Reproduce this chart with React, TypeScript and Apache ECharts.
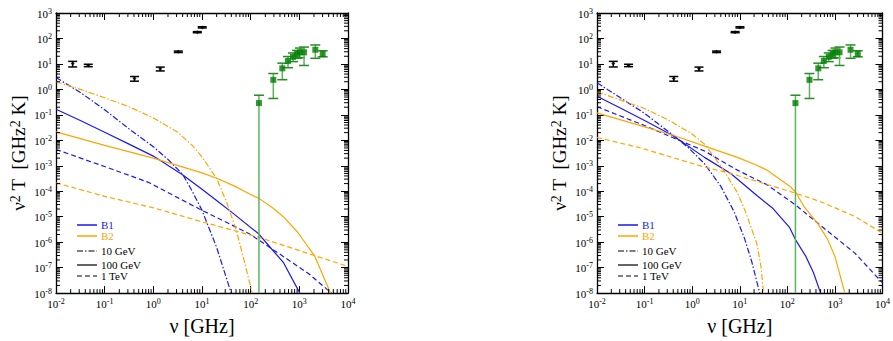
import React, { useEffect, useRef } from "react";
import * as echarts from "echarts";

const FONT = "Liberation Serif";
const BLUE = "rgb(25,25,235)";
const ORANGE = "#ffa500";

// axis ranges (log10 exponents) and minor tick multipliers
const X_MIN = -2;
const X_MAX = 4;
const Y_MIN = -8;
const Y_MAX = 3;
const MINOR_MULT = [2, 3, 4, 5, 6, 7, 8, 9];

// measurements: [ν GHz, ν²T, low, high]
const blackPoints = [
  [0.022, 10.4, 7.6, 12.6],
  [0.046, 8.7, 7.8, 9.7],
  [0.41, 2.67, 2.1, 3.2],
  [1.39, 6.4, 5.3, 7.5],
  [3.26, 30, 28, 32],
  [8.0, 177, 168, 186],
  [10.1, 272, 258, 288],
];
const greenPoints = [
  [148, 0.29, 1e-8, 0.59],
  [292, 2.37, 0.44, 4.2],
  [447, 6.7, 2.4, 10.7],
  [585, 13.1, 7.1, 19.5],
  [741, 19, 12.3, 27],
  [896, 24.6, 16.6, 34],
  [1030, 28.6, 17.6, 42],
  [1250, 28.6, 8.7, 46],
  [2130, 36, 16.6, 55.6],
  [3020, 24.6, 19, 33],
];

// curves: [log10 ν, log10 ν²T]
const leftB1_10GeV = [[-2, 0.47], [-1.5, -0.12], [-1, -0.8], [-0.5, -1.55], [0, -2.25], [0.3, -2.75], [0.6, -3.33], [0.8, -4.0], [1.0, -4.75], [1.3, -6.2], [1.6, -8.0]];
const leftB1_100GeV = [[-2, -0.78], [-1.5, -1.22], [-1, -1.68], [-0.5, -2.15], [0, -2.62], [0.6, -3.35], [1.0, -3.92], [1.3, -4.36], [1.64, -4.87], [2.17, -5.68], [2.39, -6.18], [2.67, -6.79], [3.01, -8.0]];
const leftB1_1TeV = [[-2, -2.36], [-1, -3.03], [-0.1, -3.65], [0.5, -4.25], [0.95, -4.7], [1.5, -5.22], [1.98, -5.68], [2.67, -6.56], [3.2, -7.25], [3.66, -8.0]];
const leftB2_10GeV = [[-2, 0.3], [-1.5, 0.0], [-1, -0.33], [-0.5, -0.68], [0, -1.12], [0.5, -1.68], [0.8, -2.2], [1.0, -2.65], [1.3, -3.5], [1.5, -4.4], [1.7, -5.5], [1.85, -6.6], [1.98, -7.6], [2.03, -8.0]];
const leftB2_100GeV = [[-2, -1.67], [-1, -2.2], [0, -2.7], [1, -3.28], [1.3, -3.49], [1.65, -3.78], [1.98, -4.11], [2.17, -4.28], [2.45, -4.65], [2.67, -5.0], [2.97, -5.62], [3.32, -6.56], [3.64, -8.0]];
const leftB2_1TeV = [[-2, -3.67], [-1, -4.2], [0, -4.65], [1, -5.2], [2.17, -5.81], [3.32, -6.53], [4, -6.95]];

const rightB1_10GeV = [[-2, 0.26], [-1.5, -0.34], [-1, -0.94], [-0.4, -1.8], [-0.08, -2.29], [0.26, -2.92], [0.6, -3.8], [0.88, -4.8], [1.1, -5.85], [1.25, -6.75], [1.36, -7.56], [1.42, -8.0]];
const rightB1_100GeV = [[-2, -0.27], [-1.5, -0.74], [-1, -1.22], [-0.4, -1.82], [0.26, -2.67], [0.81, -3.3], [1.36, -4.17], [1.7, -4.68], [2.05, -5.43], [2.18, -5.93], [2.39, -6.56], [2.55, -7.2], [2.7, -8.0]];
const rightB1_1TeV = [[-2, -0.68], [-1, -1.42], [-0.4, -1.9], [0.26, -2.42], [0.95, -3.17], [1.36, -3.55], [1.57, -3.74], [2.18, -4.55], [2.63, -5.24], [3.42, -6.43], [4.0, -7.6]];
const rightB2_10GeV = [[-2, -0.1], [-1.5, -0.42], [-1, -0.75], [-0.5, -1.2], [0, -1.75], [0.26, -2.15], [0.6, -3.0], [0.95, -4.05], [1.12, -4.8], [1.36, -6.06], [1.45, -7.0], [1.5, -8.0]];
const rightB2_100GeV = [[-2, -0.92], [-1, -1.47], [-0.4, -1.8], [0.26, -2.23], [0.95, -2.67], [1.36, -2.98], [1.57, -3.17], [2.05, -3.8], [2.18, -4.05], [2.35, -4.6], [2.63, -5.24], [2.85, -5.9], [3.0, -6.56], [3.21, -8.0]];
const rightB2_1TeV = [[-2, -1.89], [-1.1, -2.29], [0.26, -3.05], [0.81, -3.3], [1.36, -3.61], [2.18, -4.08], [2.73, -4.43], [3.42, -4.99], [4.0, -5.65]];

const DASH_DOT = [6, 2, 1.5, 2];
const DASHED = [5, 3];

const legendLabels = ["B1", "B2", "10 GeV", "100 GeV", "1 TeV"];

const panels = [
  {
    left: 56,
    width: 292,
    curves: [
      { d: leftB1_10GeV, c: BLUE, t: DASH_DOT },
      { d: leftB1_100GeV, c: BLUE, t: "solid" },
      { d: leftB1_1TeV, c: BLUE, t: DASHED },
      { d: leftB2_10GeV, c: ORANGE, t: DASH_DOT },
      { d: leftB2_100GeV, c: ORANGE, t: "solid" },
      { d: leftB2_1TeV, c: ORANGE, t: DASHED },
    ],
  },
  {
    left: 597,
    width: 291,
    curves: [
      { d: rightB1_10GeV, c: BLUE, t: DASH_DOT },
      { d: rightB1_100GeV, c: BLUE, t: "solid" },
      { d: rightB1_1TeV, c: BLUE, t: DASHED },
      { d: rightB2_10GeV, c: ORANGE, t: DASH_DOT },
      { d: rightB2_100GeV, c: ORANGE, t: "solid" },
      { d: rightB2_1TeV, c: ORANGE, t: DASHED },
    ],
  },
];

const TOP = 13;
const HEIGHT = 292;
const lg = (v: number) => Math.log10(v);

function expLabel(v: number) {
  return `{b|10}{s|${Math.round(v)}}`;
}

const labelRich = {
  b: { fontSize: 11, fontFamily: FONT, color: "#000", lineHeight: 12, verticalAlign: "bottom" },
  s: { fontSize: 8, fontFamily: FONT, color: "#000", lineHeight: 9, padding: [0, 0, 6, 0], verticalAlign: "top" },
};

const axisLineStyle = { color: "#000", width: 1.3 };

function minorData() {
  const out: number[][] = [];
  for (let k = X_MIN; k < X_MAX; k++) MINOR_MULT.forEach((m) => out.push([k + Math.log10(m), 0, 0]));
  for (let k = Y_MIN; k < Y_MAX; k++) MINOR_MULT.forEach((m) => out.push([0, k + Math.log10(m), 1]));
  return out;
}

function buildOption() {
  const grid: any[] = [];
  const xAxis: any[] = [];
  const yAxis: any[] = [];
  const series: any[] = [];
  const graphic: any[] = [];

  panels.forEach((p, i) => {
    grid.push({ left: p.left, top: TOP, width: p.width, height: HEIGHT, containLabel: false });
    const xBase = {
      type: "value",
      min: X_MIN,
      max: X_MAX,
      interval: 1,
      gridIndex: i,
      axisLine: { show: true, onZero: false, lineStyle: axisLineStyle },
      axisTick: { show: true, inside: true, length: 7, lineStyle: { color: "#000", width: 1 } },
      splitLine: { show: false },
    };
    const yBase = {
      type: "value",
      min: Y_MIN,
      max: Y_MAX,
      interval: 1,
      gridIndex: i,
      axisLine: { show: true, onZero: false, lineStyle: axisLineStyle },
      axisTick: { show: true, inside: true, length: 7, lineStyle: { color: "#000", width: 1 } },
      splitLine: { show: false },
    };
    xAxis.push({
      ...xBase,
      position: "bottom",
      axisLabel: { show: true, formatter: expLabel, rich: labelRich, margin: 4, showMinLabel: true, showMaxLabel: true },
      name: "ν [GHz]",
      nameLocation: "middle",
      nameGap: 17,
      nameTextStyle: { fontSize: 20, fontFamily: FONT, color: "#000" },
    });
    xAxis.push({ ...xBase, position: "top", axisLabel: { show: false } });
    yAxis.push({
      ...yBase,
      position: "left",
      axisLabel: { show: true, formatter: expLabel, rich: labelRich, margin: 4, showMinLabel: true, showMaxLabel: true },
      name: "{n|ν}{s|2}{n| T  [GHz}{s|2}{n| K]}",
      nameLocation: "middle",
      nameRotate: 90,
      nameGap: 28,
      nameTextStyle: {
        fontSize: 19,
        fontFamily: FONT,
        color: "#000",
        rich: {
          n: { fontSize: 19, fontFamily: FONT, color: "#000", lineHeight: 20, verticalAlign: "bottom" },
          s: { fontSize: 14, fontFamily: FONT, color: "#000", lineHeight: 14, padding: [0, 0, 8, 0], verticalAlign: "top" },
        },
      },
    });
    yAxis.push({ ...yBase, position: "right", axisLabel: { show: false } });

    const xi = i * 2;
    const yi = i * 2;

    // minor ticks on all four sides
    series.push({
      type: "custom",
      xAxisIndex: xi,
      yAxisIndex: yi,
      silent: true,
      data: minorData(),
      encode: { x: 0, y: 1 },
      renderItem: (params: any, api: any) => {
        const cs = params.coordSys;
        const kind = api.value(2);
        const st = { stroke: "#000", lineWidth: 1 };
        if (kind === 0) {
          const px = api.coord([api.value(0), 0])[0];
          return {
            type: "group",
            children: [
              { type: "line", shape: { x1: px, y1: cs.y + cs.height, x2: px, y2: cs.y + cs.height - 4 }, style: st },
              { type: "line", shape: { x1: px, y1: cs.y, x2: px, y2: cs.y + 4 }, style: st },
            ],
          };
        }
        const py = api.coord([0, api.value(1)])[1];
        return {
          type: "group",
          children: [
            { type: "line", shape: { x1: cs.x, y1: py, x2: cs.x + 4, y2: py }, style: st },
            { type: "line", shape: { x1: cs.x + cs.width, y1: py, x2: cs.x + cs.width - 4, y2: py }, style: st },
          ],
        };
      },
      z: 10,
    });

    // curves
    p.curves.forEach((c) => {
      series.push({
        type: "line",
        xAxisIndex: xi,
        yAxisIndex: yi,
        data: c.d,
        showSymbol: false,
        symbol: "none",
        lineStyle: { color: c.c, width: 1.2, type: c.t },
        silent: true,
        z: 2,
      });
    });

    // error bars
    const errSeries = (pts: number[][], lineColor: string, capColor: string, capHalf: number) => ({
      type: "custom",
      xAxisIndex: xi,
      yAxisIndex: yi,
      silent: true,
      data: pts.map((d) => [lg(d[0]), lg(d[1]), lg(d[2]), lg(d[3])]),
      encode: { x: 0, y: 1 },
      z: 3,
      renderItem: (params: any, api: any) => {
        const x = api.value(0);
        const lo = api.value(2);
        const hi = api.value(3);
        const pl = api.coord([x, lo]);
        const ph = api.coord([x, hi]);
        const children: any[] = [
          { type: "line", shape: { x1: pl[0], y1: pl[1], x2: ph[0], y2: ph[1] }, style: { stroke: lineColor, lineWidth: 1.5 } },
          { type: "line", shape: { x1: ph[0] - capHalf, y1: ph[1], x2: ph[0] + capHalf, y2: ph[1] }, style: { stroke: capColor, lineWidth: 1.5 } },
        ];
        if (lo > Y_MIN + 0.01) {
          children.push({ type: "line", shape: { x1: pl[0] - capHalf, y1: pl[1], x2: pl[0] + capHalf, y2: pl[1] }, style: { stroke: capColor, lineWidth: 1.5 } });
        }
        return { type: "group", children };
      },
    });
    series.push(errSeries(blackPoints, "#000", "#000", 4.5));
    series.push(errSeries(greenPoints, "#5cb35c", "#2a8a2a", 5));
    series.push({
      type: "scatter",
      xAxisIndex: xi,
      yAxisIndex: yi,
      data: blackPoints.map((d) => [lg(d[0]), lg(d[1])]),
      symbol: "diamond",
      symbolSize: 4,
      itemStyle: { color: "#000" },
      silent: true,
      z: 4,
    });
    series.push({
      type: "scatter",
      xAxisIndex: xi,
      yAxisIndex: yi,
      data: greenPoints.map((d) => [lg(d[0]), lg(d[1])]),
      symbol: "rect",
      symbolSize: 6,
      itemStyle: { color: "#008000" },
      silent: true,
      z: 4,
    });

    // legend
    const lx = p.left + 21;
    const rows = [
      { y: 225, color: BLUE, dash: null, textColor: BLUE },
      { y: 236, color: ORANGE, dash: null, textColor: ORANGE },
      { y: 251, color: "#000", dash: DASH_DOT, textColor: "#000" },
      { y: 265, color: "#000", dash: null, textColor: "#000" },
      { y: 276, color: "#000", dash: DASHED, textColor: "#000" },
    ];
    rows.forEach((r, k) => {
      graphic.push({
        type: "line",
        shape: { x1: lx, y1: r.y, x2: lx + 20, y2: r.y },
        style: { stroke: r.color, lineWidth: k < 2 ? 1.5 : 1.2, lineDash: r.dash || undefined },
        silent: true,
      });
      graphic.push({
        type: "text",
        x: lx + 24,
        y: r.y,
        style: { text: legendLabels[k], fill: r.textColor, fontSize: 11, fontFamily: FONT, verticalAlign: "middle", align: "left" },
        silent: true,
      });
    });
  });

  return {
    animation: false,
    backgroundColor: "#fff",
    textStyle: { fontFamily: FONT },
    grid,
    xAxis,
    yAxis,
    series,
    graphic,
  };
}

export default function App() {
  const ref = useRef<HTMLDivElement>(null);
  useEffect(() => {
    if (!ref.current) return;
    const chart = echarts.init(ref.current, undefined, { renderer: "svg" });
    chart.setOption(buildOption() as any);
    return () => chart.dispose();
  }, []);
  return (
    <div
      ref={ref}
      style={{ position: "absolute", left: 0, top: 0, width: 893, height: 341, background: "#fff" }}
    />
  );
}
